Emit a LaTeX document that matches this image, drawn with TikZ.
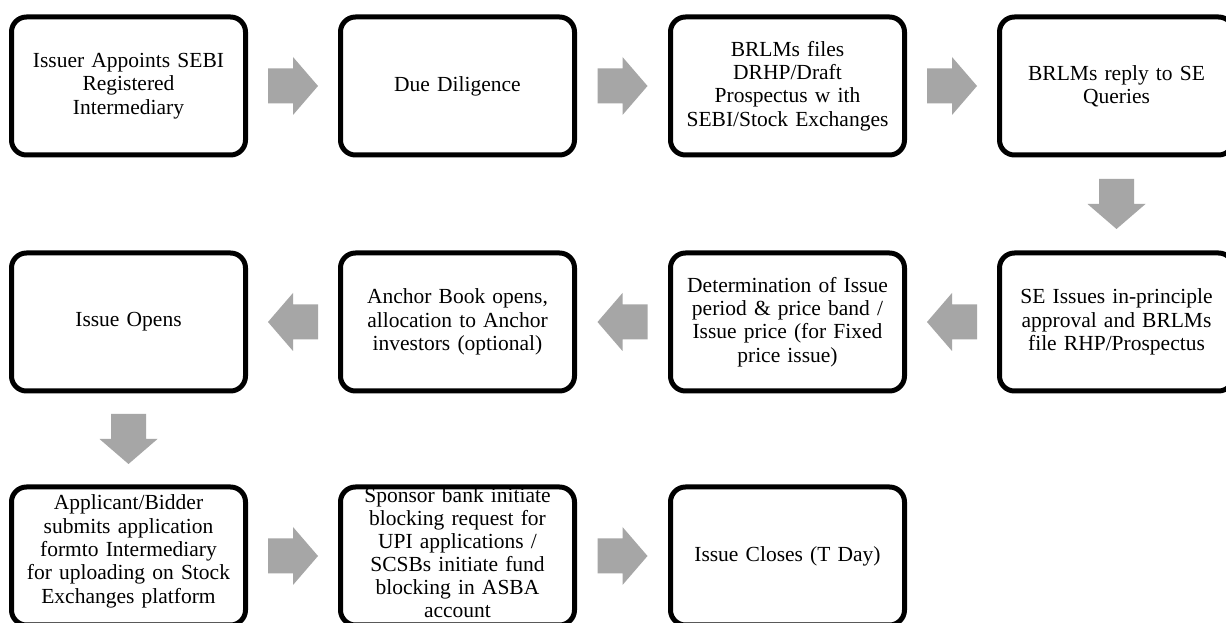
\documentclass[tikz,border=0pt]{standalone}
\usepackage{fontspec}
\setmainfont{Liberation Serif}
\usetikzlibrary{calc}
\definecolor{arrowgray}{RGB}{166,166,166}
\tikzset{
  stepbox/.style={draw=black, line width=5pt, rounded corners=15pt, fill=white,
    minimum width=234pt, minimum height=138pt, inner sep=0pt,
    text width=230pt, align=center,
    font=\fontsize{21.5}{23.3}\selectfont},
  arrowfill/.style={fill=arrowgray, draw=none}
}
\newcommand\lowpad[1]{\rule[-#1]{0pt}{0pt}}
\newcommand\blockarrow[3]{%
  \begin{scope}[shift={($(#1)!0.5!(#2)$)}, rotate=#3]
    \fill[arrowfill] (-25pt,-17.5pt) -- (0pt,-17.5pt) -- (0pt,-29pt) -- (25pt,0pt)
      -- (0pt,29pt) -- (0pt,17.5pt) -- (-25pt,17.5pt) -- cycle;
  \end{scope}}
\begin{document}
\begin{tikzpicture}[x=1pt,y=1pt]
\clip (0,0) rectangle (1226,623);
\fill[white] (0,0) rectangle (1226,623);
% row 1
\node[stepbox] (n1) at (128.5,537) {Issuer Appoints SEBI\\Registered\\Intermediary};
\node[stepbox] (n2) at (457.5,537) {Due Diligence};
\node[stepbox] (n3) at (787.5,537) {BRLMs files\\DRHP/Draft\\Prospectus w ith\\SEBI/Stock Exchanges};
\node[stepbox] (n4) at (1116.5,537) {BRLMs reply to SE\\Queries};
% row 2
\node[stepbox] (n5) at (1116.5,301) {SE Issues in-principle\\approval and BRLMs\\file RHP/Prospectus};
\node[stepbox] (n6) at (787.5,301) {Determination of Issue\\period \& price band /\\Issue price (for Fixed\\price issue)};
\node[stepbox] (n7) at (457.5,301) {Anchor Book opens,\\allocation to Anchor\\investors (optional)};
\node[stepbox] (n8) at (128.5,301) {Issue Opens};
% row 3
\node[stepbox] (n9) at (128.5,67) {Applicant/Bidder\\submits application\\formto Intermediary\\for uploading on Stock\\Exchanges platform\lowpad{14pt}};
\node[stepbox, font=\fontsize{21.5}{22.9}\selectfont] (n10) at (457.5,67) {Sponsor bank initiate\\blocking request for\\UPI applications /\\SCSBs initiate fund\\blocking in ASBA\\account\lowpad{6.5pt}};
\node[stepbox] (n11) at (787.5,67) {Issue Closes (T Day)};
% arrows
\blockarrow{n1.east}{n2.west}{0}
\blockarrow{n2.east}{n3.west}{0}
\blockarrow{n3.east}{n4.west}{0}
\blockarrow{n4.south}{n5.north}{-90}
\blockarrow{n5.west}{n6.east}{180}
\blockarrow{n6.west}{n7.east}{180}
\blockarrow{n7.west}{n8.east}{180}
\blockarrow{n8.south}{n9.north}{-90}
\blockarrow{n9.east}{n10.west}{0}
\blockarrow{n10.east}{n11.west}{0}
\end{tikzpicture}
\end{document}
